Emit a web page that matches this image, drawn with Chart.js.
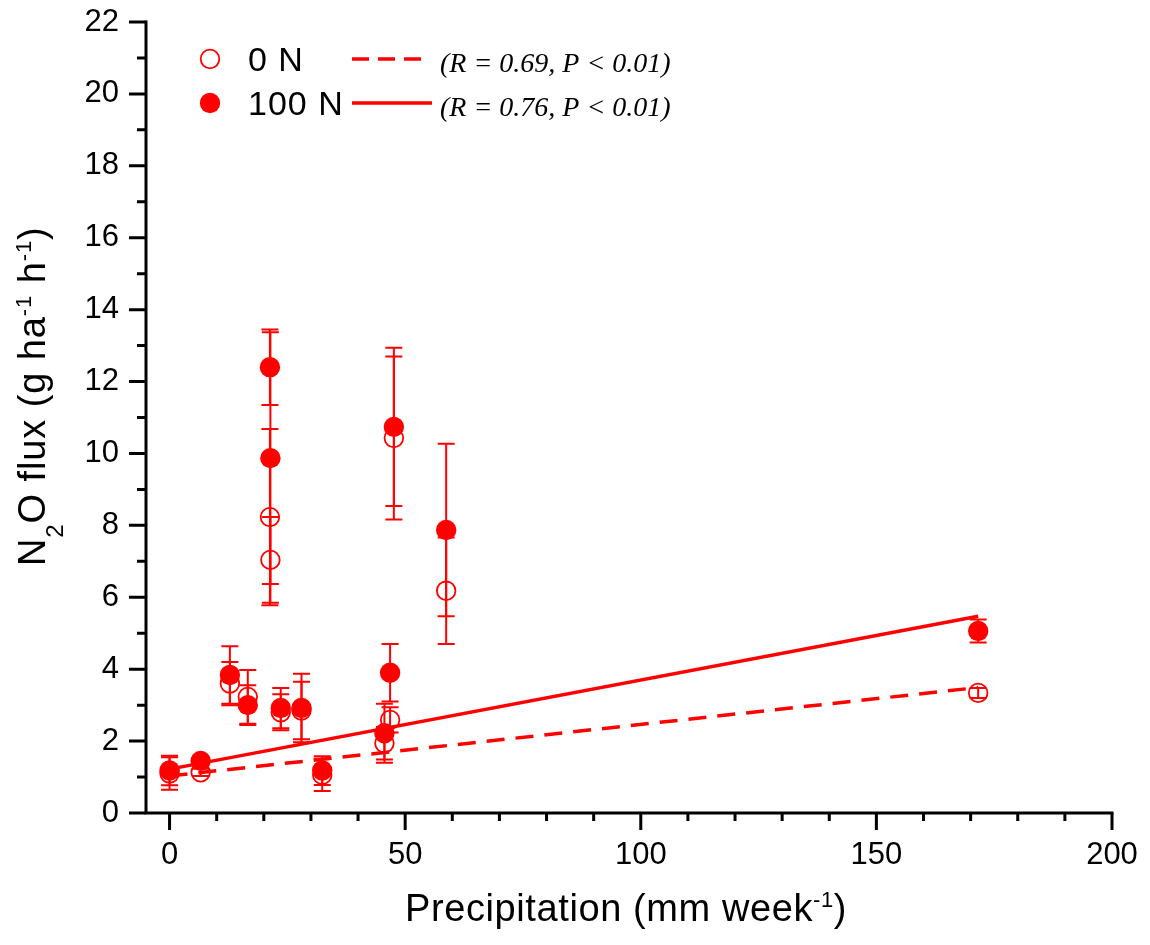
<!DOCTYPE html>
<html>
<head>
<meta charset="utf-8">
<script src="https://cdn.jsdelivr.net/npm/chart.js@4.4.0/dist/chart.umd.min.js"></script>
<style>
  html, body { margin: 0; padding: 0; background: #fff; }
</style>
</head>
<body>
<canvas id="chart" width="1150" height="945"></canvas>
<script>
// Weekly precipitation vs N2O flux, two N treatments with SE bars and linear fits
const precip   = [0, 6.6, 12.8, 16.6, 21.3, 21.4, 23.6, 28.0, 32.4, 45.6, 46.8, 47.6, 58.7, 171.6]
const flux0N   = [1.1, 1.13, 3.6, 3.23, 8.23, 7.04, 2.8, 2.85, 1.06, 1.94, 2.59, 10.43, 6.18, 3.34]
const err0N    = [0.45, 0.1, 0.6, 0.75, 2.45, 1.19, 0.5, 0.8, 0.45, 0.45, 0.35, 2.27, 1.48, 0.14]
const flux100N = [1.18, 1.45, 3.84, 3.0, 12.4, 9.87, 2.92, 2.92, 1.18, 2.22, 3.9, 10.74, 7.87, 5.06]
const err100N  = [0.41, 0.12, 0.8, 0.55, 1.05, 3.5, 0.56, 0.95, 0.4, 0.82, 0.8, 2.2, 2.4, 0.32]

// regression lines, end points
const fit0N   = [{ x: 0, y: 1.03 }, { x: 171.6, y: 3.49 }]
const fit100N = [{ x: 0, y: 1.22 }, { x: 171.6, y: 5.47 }]

const xTicks = [0, 50, 100, 150, 200]
const yTicks = [0, 2, 4, 6, 8, 10, 12, 14, 16, 18, 20, 22]
const legendLabels = ['0 N', '100 N']
const legendStats = ['(R = 0.69, P < 0.01)', '(R = 0.76, P < 0.01)']

const RED = '#ff0000'
const SANS = "'Liberation Sans', Arial, sans-serif"
const SERIF = "'Liberation Serif', 'Times New Roman', serif"

const toPoints = (xs, ys) => xs.map((x, i) => ({ x: x, y: ys[i] }))

// draw text runs char by char with a little extra letter spacing
function drawRuns(ctx, runs, x, y, spacing) {
  let cx = x
  for (const r of runs) {
    ctx.font = `${r.size}px ${SANS}`
    for (const ch of r.t) {
      ctx.fillText(ch, cx, y + (r.dy || 0))
      cx += ctx.measureText(ch).width + spacing
    }
  }
}

const errorBars = {
  id: 'errorBars',
  beforeDatasetsDraw(chart) {
    const ctx = chart.ctx
    const xs = chart.scales.x, ys = chart.scales.y
    ctx.save()
    ctx.strokeStyle = RED
    ctx.lineWidth = 2
    chart.data.datasets.forEach(ds => {
      if (!ds.errors) return
      ds.data.forEach((p, i) => {
        const px = xs.getPixelForValue(p.x)
        const top = ys.getPixelForValue(p.y + ds.errors[i])
        const bot = ys.getPixelForValue(p.y - ds.errors[i])
        ctx.beginPath()
        ctx.moveTo(px, top); ctx.lineTo(px, bot)
        ctx.moveTo(px - 8.5, top); ctx.lineTo(px + 8.5, top)
        ctx.moveTo(px - 8.5, bot); ctx.lineTo(px + 8.5, bot)
        ctx.stroke()
      })
    })
    ctx.restore()
  }
}

const frame = {
  id: 'frame',
  afterDraw(chart) {
    const ctx = chart.ctx
    const xs = chart.scales.x, ys = chart.scales.y
    const { left, bottom, top } = chart.chartArea
    ctx.save()
    ctx.strokeStyle = '#000'
    ctx.lineWidth = 3
    ctx.lineCap = 'butt'

    // axis lines
    ctx.beginPath()
    ctx.moveTo(left, top - 1.5); ctx.lineTo(left, bottom + 1.5)
    ctx.moveTo(left - 1.5, bottom); ctx.lineTo(xs.right + 1.5, bottom)
    ctx.stroke()

    // x ticks, minor every 10
    ctx.beginPath()
    for (let v = 0; v <= 200; v += 10) {
      const px = xs.getPixelForValue(v)
      const len = xTicks.includes(v) ? 17 : 8
      ctx.moveTo(px, bottom); ctx.lineTo(px, bottom + len)
    }
    // y ticks, minor every 1
    for (let v = 0; v <= 22; v += 1) {
      const py = ys.getPixelForValue(v)
      const len = yTicks.includes(v) ? 17 : 9
      ctx.moveTo(left, py); ctx.lineTo(left - len, py)
    }
    ctx.stroke()

    // axis titles
    ctx.fillStyle = '#000'
    ctx.textAlign = 'left'
    ctx.textBaseline = 'alphabetic'
    drawRuns(ctx, [
      { t: 'Precipitation (mm week', size: 38 },
      { t: '-1', size: 22, dy: -14 },
      { t: ')', size: 38 }
    ], 405, 921, 0.6)

    ctx.save()
    ctx.translate(45, 566)
    ctx.rotate(-Math.PI / 2)
    drawRuns(ctx, [
      { t: 'N', size: 38 },
      { t: '2', size: 24, dy: 18 },
      { t: 'O flux (g ha', size: 38 },
      { t: '-1', size: 22, dy: -14 },
      { t: ' h', size: 38 },
      { t: '-1', size: 22, dy: -14 },
      { t: ')', size: 38 }
    ], 0, 0, 0.9)
    ctx.restore()

    // legend
    const rows = [59, 103]
    ctx.strokeStyle = RED
    ctx.fillStyle = RED
    ctx.lineWidth = 1.8
    ctx.beginPath(); ctx.arc(210, rows[0], 9.3, 0, Math.PI * 2); ctx.stroke()
    ctx.beginPath(); ctx.arc(210, rows[1], 10.2, 0, Math.PI * 2); ctx.fill()

    ctx.lineWidth = 3.5
    ctx.setLineDash([17, 9])
    ctx.beginPath(); ctx.moveTo(352, rows[0]); ctx.lineTo(423, rows[0]); ctx.stroke()
    ctx.setLineDash([])
    ctx.beginPath(); ctx.moveTo(352, rows[1]); ctx.lineTo(432, rows[1]); ctx.stroke()

    ctx.fillStyle = '#000'
    legendLabels.forEach((lab, i) => {
      drawRuns(ctx, [{ t: lab, size: 34 }], 248, rows[i] + 12, 1)
    })
    ctx.font = `italic 28px ${SERIF}`
    legendStats.forEach((s, i) => {
      ctx.fillText(s, 440, rows[i] + 13)
    })
    ctx.restore()
  }
}

const tickFont = { family: SANS, size: 31 }

new Chart(document.getElementById('chart'), {
  type: 'scatter',
  data: {
    datasets: [
      {
        label: '100 N',
        data: toPoints(precip, flux100N),
        errors: err100N,
        pointRadius: 10.2,
        pointBackgroundColor: RED,
        pointBorderWidth: 0,
        order: 0
      },
      {
        label: '0 N',
        data: toPoints(precip, flux0N),
        errors: err0N,
        pointRadius: 9.3,
        pointBackgroundColor: 'rgba(0,0,0,0)',
        pointBorderColor: RED,
        pointBorderWidth: 1.8,
        order: 1
      },
      {
        label: 'fit 100 N',
        data: fit100N,
        showLine: true,
        borderColor: RED,
        borderWidth: 3.5,
        pointRadius: 0,
        order: 2
      },
      {
        label: 'fit 0 N',
        data: fit0N,
        showLine: true,
        borderColor: RED,
        borderWidth: 3.5,
        borderDash: [18, 11],
        pointRadius: 0,
        order: 3
      }
    ]
  },
  options: {
    responsive: false,
    animation: false,
    layout: { padding: { top: 22, right: 38, left: 0, bottom: 0 } },
    plugins: {
      legend: { display: false },
      tooltip: { enabled: false }
    },
    scales: {
      x: {
        type: 'linear',
        min: -5,
        max: 200,
        grid: { display: false, drawTicks: false },
        border: { display: false },
        afterBuildTicks: s => { s.ticks = xTicks.map(v => ({ value: v })) },
        afterFit: s => {
          s.height = 132
          s.paddingLeft = 0; s.paddingRight = 0
        },
        ticks: { font: tickFont, color: '#000', padding: 24, maxRotation: 0 }
      },
      y: {
        type: 'linear',
        min: 0,
        max: 22,
        grid: { display: false, drawTicks: false },
        border: { display: false },
        afterBuildTicks: s => { s.ticks = yTicks.map(v => ({ value: v })) },
        afterFit: s => {
          s.width = 146
          s.paddingTop = 0; s.paddingBottom = 0
        },
        ticks: { font: tickFont, color: '#000', padding: 27 }
      }
    }
  },
  plugins: [errorBars, frame]
})
</script>
</body>
</html>
